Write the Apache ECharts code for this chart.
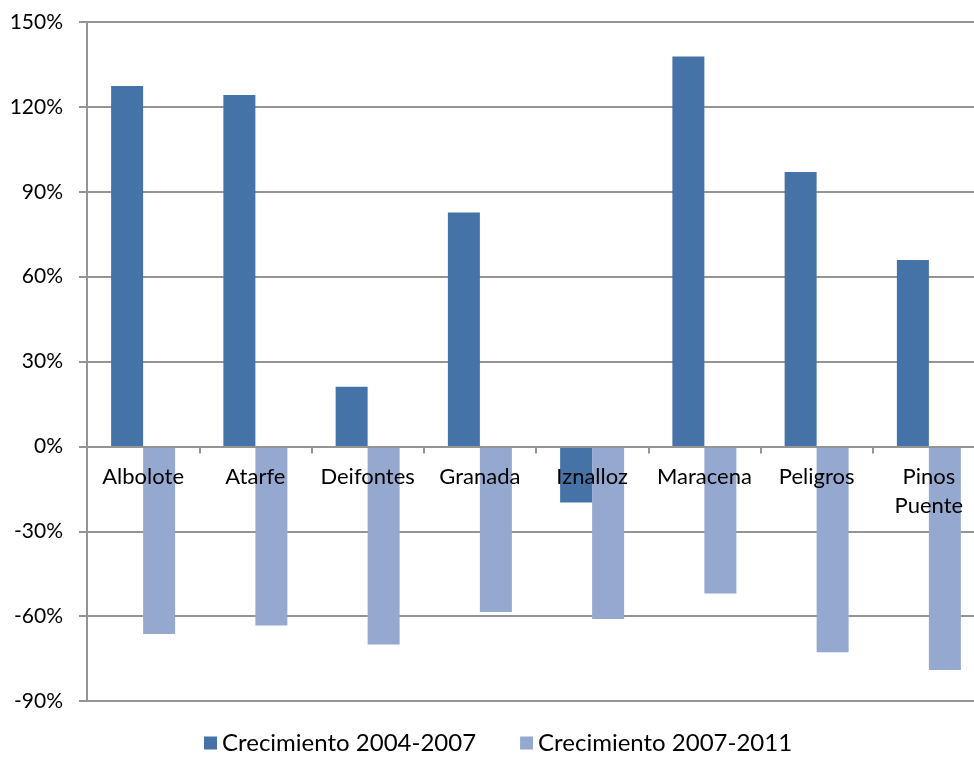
<!DOCTYPE html>
<html>
<head>
<meta charset="utf-8">
<script src="https://cdn.jsdelivr.net/npm/echarts@6/dist/echarts.min.js"></script>
<style>
  html, body { margin: 0; padding: 0; background: #fff; }
  #chart { width: 974px; height: 758px; }
</style>
</head>
<body>
<div id="chart"></div>
<script>
// Municipios del área metropolitana
const categories = ['Albolote', 'Atarfe', 'Deifontes', 'Granada', 'Iznalloz', 'Maracena', 'Peligros', 'Pinos Puente'];
// Crecimiento (%) por periodo
const crecimiento2004_2007 = [127.4, 124.2, 21.1, 82.7, -19.8, 137.8, 97.0, 65.9];
const crecimiento2007_2011 = [-66.3, -63.3, -70.0, -58.5, -61.0, -52.0, -72.8, -79.0];
const seriesNames = ['Crecimiento 2004-2007', 'Crecimiento 2007-2011'];
const yTicks = { min: -90, max: 150, interval: 30 };

const FONT = 'Lato';
const GRID_COLOR = '#949494';
const PLOT = { left: 87, top: 22, width: 898, height: 679 };

// Lift the category axis (line, ticks, labels) from the bottom edge up to the 0% line
const zeroOffset = -((0 - yTicks.min) / (yTicks.max - yTicks.min)) * PLOT.height;

const chart = echarts.init(document.getElementById('chart'));
chart.setOption({
  animation: false,
  textStyle: { fontFamily: FONT, color: '#000' },
  grid: {
    left: PLOT.left, top: PLOT.top, width: PLOT.width, height: PLOT.height,
    containLabel: false,
    outerBoundsMode: 'none'
  },
  legend: {
    bottom: -2,
    left: 199,
    itemWidth: 13,
    itemHeight: 13,
    itemGap: 44,
    icon: 'rect',
    textStyle: { fontFamily: FONT, fontSize: 24, color: '#000' },
    data: seriesNames
  },
  xAxis: {
    type: 'category',
    data: categories,
    position: 'bottom',
    offset: zeroOffset,
    z: 10,
    axisLine: { onZero: false, lineStyle: { color: GRID_COLOR, width: 2 } },
    axisTick: { show: true, length: 7, lineStyle: { color: GRID_COLOR, width: 2 } },
    axisLabel: {
      interval: 0,
      margin: 16,
      fontFamily: FONT,
      fontSize: 22,
      lineHeight: 29,
      color: '#000',
      formatter: v => v.replace(' ', '\n')
    }
  },
  yAxis: {
    type: 'value',
    min: yTicks.min,
    max: yTicks.max,
    interval: yTicks.interval,
    axisLine: { show: true, lineStyle: { color: GRID_COLOR, width: 2 } },
    axisTick: { show: true, length: 8, lineStyle: { color: GRID_COLOR, width: 2 } },
    splitLine: { show: true, lineStyle: { color: GRID_COLOR, width: 2 } },
    axisLabel: {
      margin: 24,
      fontFamily: FONT,
      fontSize: 21,
      color: '#000',
      formatter: '{value}%'
    }
  },
  series: [
    {
      name: seriesNames[0],
      type: 'bar',
      data: crecimiento2004_2007,
      barWidth: 32,
      barGap: '0%',
      itemStyle: { color: '#4573A7' }
    },
    {
      name: seriesNames[1],
      type: 'bar',
      data: crecimiento2007_2011,
      barWidth: 32,
      barGap: '0%',
      itemStyle: { color: '#95A9D0' }
    }
  ]
});
</script>
</body>
</html>
